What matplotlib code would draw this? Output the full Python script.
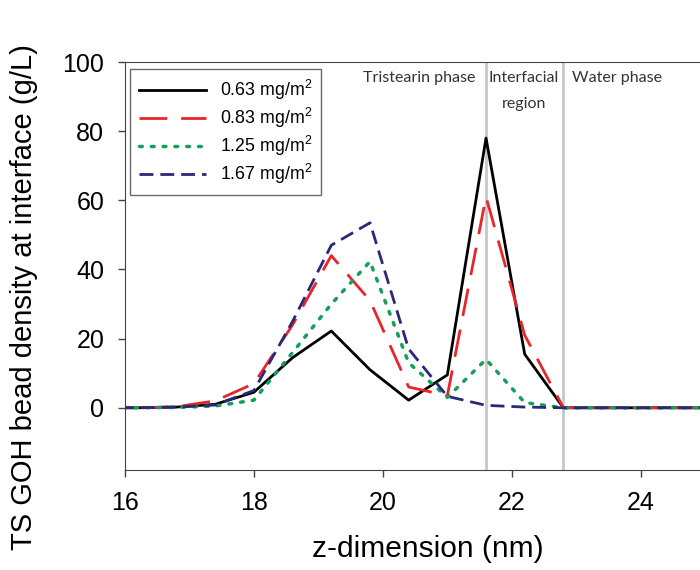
import matplotlib.pyplot as plt

# z positions (nm) and bead density (g/L)
z = [15.6, 16.2, 16.8, 17.4, 18.0, 18.6, 19.2, 19.8, 20.4, 21.0, 21.6, 22.2, 22.8,
     23.4, 24.0, 24.6, 25.2, 25.8]
d_063 = [0, 0, 0.2, 1.0, 4.5, 14.5, 22.2, 11.0, 2.2, 9.5, 78.0, 15.5, 0,
         0, 0, 0, 0, 0]
d_083 = [0, 0, 0.3, 2.0, 7.0, 24.0, 44.0, 31.0, 6.0, 3.5, 61.0, 21.0, 0,
         0, 0, 0, 0, 0]
d_125 = [0, 0, 0.1, 0.5, 2.2, 16.0, 30.0, 42.3, 13.0, 3.0, 14.0, 1.5, 0,
         0, 0, 0, 0, 0]
d_167 = [0, 0, 0.2, 0.8, 5.0, 25.0, 47.0, 53.5, 17.0, 3.3, 0.7, 0.2, 0,
         0, 0, 0, 0, 0]
labels = ['0.63 mg/m$^2$', '0.83 mg/m$^2$', '1.25 mg/m$^2$', '1.67 mg/m$^2$']

phase_bounds = [21.6, 22.8]

plt.rcParams['font.family'] = ['Liberation Sans', 'DejaVu Sans']
plt.rcParams['mathtext.fontset'] = 'custom'
plt.rcParams['mathtext.rm'] = 'Liberation Sans'

fig = plt.figure(figsize=(7, 5.7), dpi=100)
ax = fig.add_axes([125 / 700, 100 / 570, 606 / 700, 408 / 570])

for b in phase_bounds:
    ax.axvline(b, color='#c8c8c8', lw=2, zorder=1)

ax.plot(z, d_063, color='black', lw=2, label=labels[0])
ax.plot(z, d_083, color='#e8262a', lw=2, dashes=(10, 5), label=labels[1])
ax.plot(z, d_125, color='#13a05a', lw=2.5, dashes=(0.8, 2.6),
        dash_capstyle='round', label=labels[2])
ax.plot(z, d_167, color='#2c2878', lw=2, dashes=(5, 2.5), label=labels[3])

ax.set_xlim(16, 25.4)
ax.set_ylim(-18, 100)
ax.set_xticks([16, 18, 20, 22, 24])
ax.set_yticks([0, 20, 40, 60, 80, 100])
ax.tick_params(labelsize=18, length=5, width=1, color='#444444')
ax.tick_params(axis='y', pad=10)
ax.tick_params(axis='x', pad=10)
for s in ax.spines.values():
    s.set_color('#444444')

ax.set_xlabel('z-dimension (nm)', fontsize=21.5)
ax.xaxis.set_label_coords(0.5, -0.16)
ax.set_ylabel('TS GOH bead density at interface (g/L)', fontsize=21)
ax.yaxis.set_label_coords(-0.144, 0.424)

tfont = dict(family=['Lato', 'DejaVu Sans'], fontsize=11.5, color='#333333')
ax.text(20.56, 95.3, 'Tristearin phase', ha='center', va='center', **tfont)
ax.text(22.19, 95.3, 'Interfacial', ha='center', va='center', **tfont)
ax.text(22.19, 87.8, 'region', ha='center', va='center', **tfont)
ax.text(23.63, 95.3, 'Water phase', ha='center', va='center', **tfont)

leg = ax.legend(loc='upper left', bbox_to_anchor=(0.008, 0.983), fontsize=12.8,
                handlelength=3.8, frameon=True, fancybox=False,
                borderaxespad=0, borderpad=0.5, labelspacing=0.22,
                handletextpad=0.75)
leg.get_frame().set_edgecolor('#444444')
leg.get_frame().set_linewidth(1)

fig.savefig('out.png', dpi=100)
